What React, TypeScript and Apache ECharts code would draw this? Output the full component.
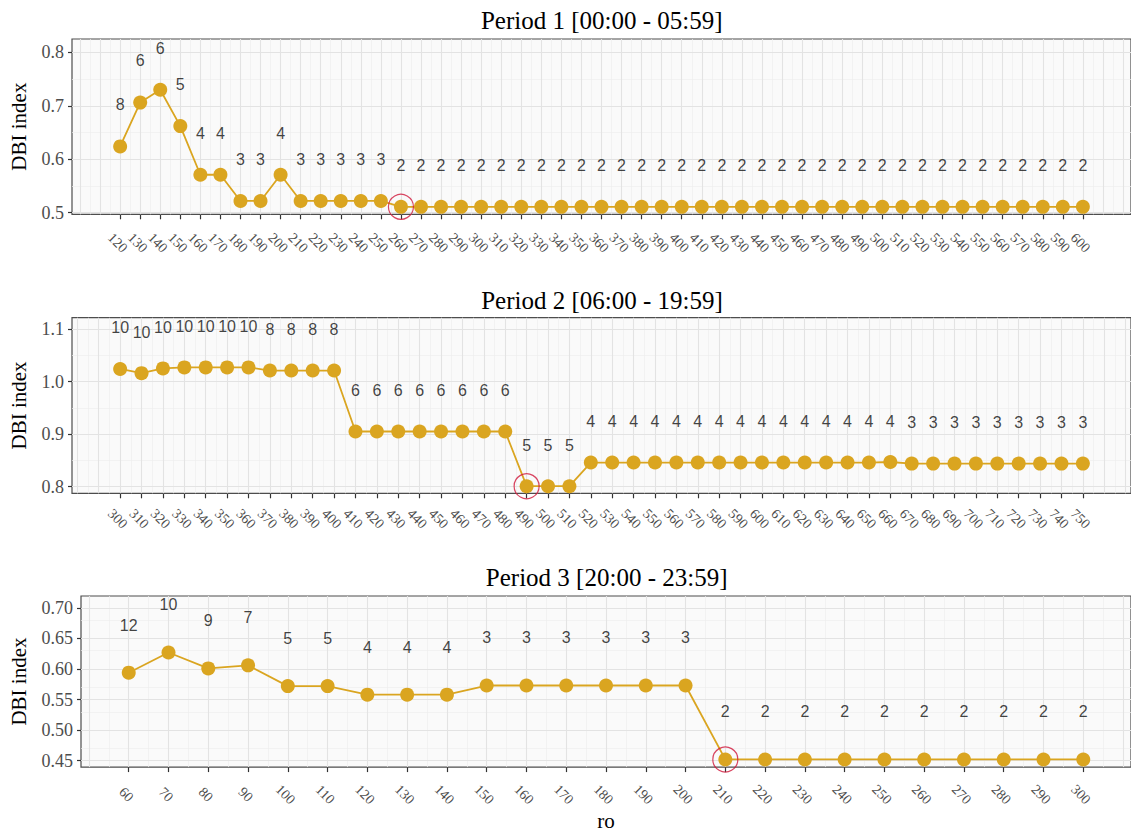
import React, { useEffect, useRef } from "react";
import * as echarts from "echarts";

// ---------------- data ----------------
const p1Ro = [120, 130, 140, 150, 160, 170, 180, 190, 200, 210, 220, 230, 240, 250, 260, 270, 280, 290, 300, 310, 320, 330, 340, 350, 360, 370, 380, 390, 400, 410, 420, 430, 440, 450, 460, 470, 480, 490, 500, 510, 520, 530, 540, 550, 560, 570, 580, 590, 600];
const p1Dbi = [0.624, 0.706, 0.730, 0.662, 0.571, 0.571, 0.522, 0.522, 0.571, 0.522, 0.522, 0.522, 0.522, 0.522, 0.511, 0.511, 0.511, 0.511, 0.511, 0.511, 0.511, 0.511, 0.511, 0.511, 0.511, 0.511, 0.511, 0.511, 0.511, 0.511, 0.511, 0.511, 0.511, 0.511, 0.511, 0.511, 0.511, 0.511, 0.511, 0.511, 0.511, 0.511, 0.511, 0.511, 0.511, 0.511, 0.511, 0.511, 0.511];
const p1K = [8, 6, 6, 5, 4, 4, 3, 3, 4, 3, 3, 3, 3, 3, 2, 2, 2, 2, 2, 2, 2, 2, 2, 2, 2, 2, 2, 2, 2, 2, 2, 2, 2, 2, 2, 2, 2, 2, 2, 2, 2, 2, 2, 2, 2, 2, 2, 2, 2];
const p1Best = 260;
const p1YTicks = [0.5, 0.6, 0.7, 0.8];

const p2Ro = [300, 310, 320, 330, 340, 350, 360, 370, 380, 390, 400, 410, 420, 430, 440, 450, 460, 470, 480, 490, 500, 510, 520, 530, 540, 550, 560, 570, 580, 590, 600, 610, 620, 630, 640, 650, 660, 670, 680, 690, 700, 710, 720, 730, 740, 750];
const p2Dbi = [1.024, 1.016, 1.025, 1.027, 1.027, 1.027, 1.027, 1.021, 1.021, 1.021, 1.021, 0.905, 0.905, 0.905, 0.905, 0.905, 0.905, 0.905, 0.905, 0.801, 0.801, 0.801, 0.846, 0.846, 0.846, 0.846, 0.846, 0.846, 0.846, 0.846, 0.846, 0.846, 0.846, 0.846, 0.846, 0.846, 0.847, 0.844, 0.844, 0.844, 0.844, 0.844, 0.844, 0.844, 0.844, 0.844];
const p2K = [10, 10, 10, 10, 10, 10, 10, 8, 8, 8, 8, 6, 6, 6, 6, 6, 6, 6, 6, 5, 5, 5, 4, 4, 4, 4, 4, 4, 4, 4, 4, 4, 4, 4, 4, 4, 4, 3, 3, 3, 3, 3, 3, 3, 3, 3];
const p2Best = 490;
const p2YTicks = [0.8, 0.9, 1.0, 1.1];

const p3Ro = [60, 70, 80, 90, 100, 110, 120, 130, 140, 150, 160, 170, 180, 190, 200, 210, 220, 230, 240, 250, 260, 270, 280, 290, 300];
const p3Dbi = [0.594, 0.627, 0.601, 0.606, 0.572, 0.572, 0.558, 0.558, 0.558, 0.573, 0.573, 0.573, 0.573, 0.573, 0.573, 0.452, 0.452, 0.452, 0.452, 0.452, 0.452, 0.452, 0.452, 0.452, 0.452];
const p3K = [12, 10, 9, 7, 5, 5, 4, 4, 4, 3, 3, 3, 3, 3, 3, 2, 2, 2, 2, 2, 2, 2, 2, 2, 2];
const p3Best = 210;
const p3YTicks = [0.45, 0.5, 0.55, 0.6, 0.65, 0.7];

const titles = ["Period 1 [00:00 - 05:59]", "Period 2 [06:00 - 19:59]", "Period 3 [20:00 - 23:59]"];
const yTitle = "DBI index";
const xTitle = "ro";

// ---------------- styling / layout ----------------
const SERIF = "Liberation Serif, Times New Roman, serif";
const SANS = "Liberation Sans, Arial, sans-serif";
const GOLD = "#DAA520";
const RED = "#D0163A";
const NUDGE = 0.078;
const PANEL_RIGHT = 1134;

const panels = [
  { ro: p1Ro, dbi: p1Dbi, k: p1K, best: p1Best, yTicks: p1YTicks, yDigits: 1, yStep: 0.1,
    left: 69.5, top: 39, height: 175.3, xMin: 96, xMax: 624, yMin: 0.497, yMax: 0.825, labelMargin: 31, titleY: 20, nameGap: 43 },
  { ro: p2Ro, dbi: p2Dbi, k: p2K, best: p2Best, yTicks: p2YTicks, yDigits: 1, yStep: 0.1,
    left: 70, top: 317.7, height: 175.6, xMin: 277.5, xMax: 772.5, yMin: 0.7875, yMax: 1.1215, labelMargin: 28, titleY: 300, nameGap: 43 },
  { ro: p3Ro, dbi: p3Dbi, k: p3K, best: p3Best, yTicks: p3YTicks, yDigits: 2, yStep: 0.05,
    left: 79.3, top: 596, height: 176.3, xMin: 48, xMax: 312, yMin: 0.4395, yMax: 0.7195, labelMargin: 30, titleY: 577.5, nameGap: 52 },
];

function gridLines(min: number, max: number, step: number) {
  const major: number[] = [];
  const minor: number[] = [];
  const start = Math.ceil(min / step - 1e-9);
  for (let i = start; i * step <= max + 1e-9; i++) {
    major.push(+(i * step).toFixed(4));
  }
  const half = step / 2;
  const s2 = Math.ceil(min / half - 1e-9);
  for (let i = s2; i * half <= max + 1e-9; i++) {
    const v = +(i * half).toFixed(4);
    if (!major.some((m) => Math.abs(m - v) < 1e-6)) minor.push(v);
  }
  return { major, minor };
}

function buildOption() {
  const grid: any[] = [];
  const xAxis: any[] = [];
  const yAxis: any[] = [];
  const series: any[] = [];
  const graphic: any[] = [];

  panels.forEach((p, i) => {
    grid.push({
      left: p.left, top: p.top, width: PANEL_RIGHT - p.left, height: p.height,
      show: true, backgroundColor: "#FAFAFA", borderColor: "#4D4D4D", borderWidth: 1.2,
    });
    xAxis.push({
      type: "value", gridIndex: i, min: p.xMin, max: p.xMax,
      axisLine: { show: false },
      splitLine: { show: false },
      axisTick: { show: true, customValues: p.ro, length: 5, lineStyle: { color: "#333", width: 1.2 } },
      axisLabel: {
        show: true, customValues: p.ro, rotate: -45, align: "center", verticalAlign: "middle",
        padding: [7, 7, 0, 0],
        margin: p.labelMargin, color: "#4D4D4D", fontFamily: SERIF, fontSize: 14,
        formatter: (v: number) => String(v),
      },
      ...(i === 2
        ? { name: xTitle, nameLocation: "middle", nameGap: 38, nameTextStyle: { color: "#000", fontFamily: SERIF, fontSize: 21 } }
        : {}),
    });
    yAxis.push({
      type: "value", gridIndex: i, min: p.yMin, max: p.yMax,
      axisLine: { show: false },
      splitLine: { show: false },
      axisTick: { show: true, customValues: p.yTicks, length: 4, lineStyle: { color: "#333", width: 1.2 } },
      axisLabel: {
        show: true, customValues: p.yTicks, margin: 8, color: "#4D4D4D", fontFamily: SERIF, fontSize: 18,
        formatter: (v: number) => v.toFixed(p.yDigits),
      },
      name: yTitle, nameLocation: "middle", nameRotate: 90, nameGap: p.nameGap,
      nameTextStyle: { color: "#000", fontFamily: SERIF, fontSize: 21 },
    });

    const gx = gridLines(p.xMin, p.xMax, 10);
    const gy = gridLines(p.yMin, p.yMax, p.yStep);
    const majorStyle = { color: "#E3E3E3", width: 1.1, type: "solid" };
    const minorStyle = { color: "#EEEEEE", width: 0.7, type: "solid" };
    const mlData: any[] = [];
    gx.minor.forEach((v) => mlData.push({ xAxis: v, lineStyle: minorStyle }));
    gy.minor.forEach((v) => mlData.push({ yAxis: v, lineStyle: minorStyle }));
    gx.major.forEach((v) => mlData.push({ xAxis: v, lineStyle: majorStyle }));
    gy.major.forEach((v) => mlData.push({ yAxis: v, lineStyle: majorStyle }));

    series.push({
      type: "line", xAxisIndex: i, yAxisIndex: i,
      data: p.ro.map((x, j) => [x, p.dbi[j]]),
      symbol: "circle", symbolSize: 14, showSymbol: true,
      itemStyle: { color: GOLD },
      lineStyle: { color: GOLD, width: 1.8 },
      z: 3,
      markLine: {
        silent: true, symbol: ["none", "none"], z: 1, animation: false,
        label: { show: false }, emphasis: { disabled: true },
        data: mlData,
      },
    });
    series.push({
      type: "scatter", xAxisIndex: i, yAxisIndex: i,
      data: p.ro.map((x, j) => [x, p.dbi[j] + NUDGE]),
      symbol: "circle", symbolSize: 1, itemStyle: { color: "rgba(0,0,0,0)" },
      label: {
        show: true, position: "inside", color: "#111", fontFamily: SANS, fontSize: 16,
        formatter: (prm: any) => String(p.k[prm.dataIndex]),
      },
      silent: true, z: 4,
    });
    const bi = p.ro.indexOf(p.best);
    series.push({
      type: "scatter", xAxisIndex: i, yAxisIndex: i,
      data: [[p.ro[bi], p.dbi[bi]]],
      symbol: "circle", symbolSize: 25,
      itemStyle: { color: "rgba(0,0,0,0)", borderColor: RED, borderWidth: 1.2 },
      silent: true, z: 5,
    });

    graphic.push({
      type: "text", x: (p.left + PANEL_RIGHT) / 2, y: p.titleY,
      style: { text: titles[i], fill: "#000", fontFamily: SERIF, fontSize: 25, align: "center", verticalAlign: "middle" },
    });
  });

  return { animation: false, textStyle: { fontFamily: SERIF }, grid, xAxis, yAxis, series, graphic };
}

export default function App() {
  const ref = useRef<HTMLDivElement>(null);
  useEffect(() => {
    if (!ref.current) return;
    const chart = echarts.init(ref.current, undefined, { renderer: "svg" });
    chart.setOption(buildOption() as any);
    return () => chart.dispose();
  }, []);
  return (
    <div
      ref={ref}
      style={{ position: "absolute", left: 0, top: 0, width: 1131, height: 832, background: "#fff" }}
    />
  );
}
